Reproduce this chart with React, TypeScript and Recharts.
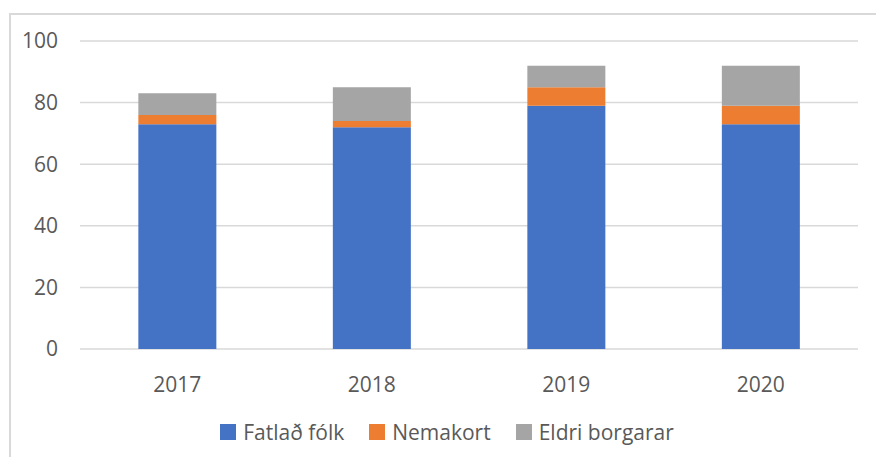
import React from "react";
import { BarChart, Bar, XAxis, YAxis, CartesianGrid, Legend } from "recharts";

const years = ["2017", "2018", "2019", "2020"];
const fatladFolk = [73, 72, 79, 73];
const nemakort = [3, 2, 6, 6];
const eldriBorgarar = [7, 11, 7, 13];
const yTicks = [0, 20, 40, 60, 80, 100];
const seriesOrder = ["Fatlað fólk", "Nemakort", "Eldri borgarar"];

const data = years.map((year, i) => ({
  year,
  fatlad: fatladFolk[i],
  nemakort: nemakort[i],
  eldri: eldriBorgarar[i],
}));

const FONT = "'Open Sans', sans-serif";
const TEXT = "#595959";

function LegendContent(props: any) {
  const items = [...(props.payload || [])].sort(
    (a: any, b: any) => seriesOrder.indexOf(a.value) - seriesOrder.indexOf(b.value)
  );
  return (
    <div style={{ display: "flex", justifyContent: "center", alignItems: "center", fontFamily: FONT }}>
      {items.map((it: any, i: number) => (
        <div key={it.value} style={{ display: "flex", alignItems: "center", marginLeft: i === 0 ? 0 : 25 }}>
          <span style={{ display: "inline-block", width: 16, height: 16, background: it.color, marginRight: 7 }} />
          <span style={{ fontSize: 21, color: TEXT }}>{it.value}</span>
        </div>
      ))}
    </div>
  );
}

export default function App() {
  return (
    <div style={{ position: "absolute", left: 0, top: 0, width: 876, height: 457, overflow: "hidden", background: "#fff", fontFamily: FONT }}>
      <div style={{ position: "absolute", left: 9, top: 13, width: 900, height: 500, border: "2px solid #d9d9d9" }} />
      <BarChart
        width={876}
        height={457}
        data={data}
        margin={{ top: 41, right: 18, left: 0, bottom: 20 }}
        barCategoryGap="30%"
      >
        <CartesianGrid vertical={false} stroke="#d9d9d9" strokeWidth={1.5} />
        <XAxis
          dataKey="year"
          axisLine={false}
          tickLine={false}
          tickSize={0}
          tickMargin={28}
          height={60}
          tick={{ fill: TEXT, fontSize: 21, fontFamily: FONT }}
        />
        <YAxis
          domain={[0, 100]}
          ticks={yTicks}
          axisLine={false}
          tickLine={false}
          tickSize={0}
          tickMargin={22}
          width={80}
          tick={{ fill: TEXT, fontSize: 21, fontFamily: FONT }}
        />
        <Legend
          content={<LegendContent />}
          wrapperStyle={{ position: "absolute", top: 418, left: 9, width: 876 }}
        />
        <Bar dataKey="fatlad" name="Fatlað fólk" stackId="a" fill="#4472C4" isAnimationActive={false} />
        <Bar dataKey="nemakort" name="Nemakort" stackId="a" fill="#ED7D31" isAnimationActive={false} />
        <Bar dataKey="eldri" name="Eldri borgarar" stackId="a" fill="#A5A5A5" isAnimationActive={false} />
      </BarChart>
    </div>
  );
}
